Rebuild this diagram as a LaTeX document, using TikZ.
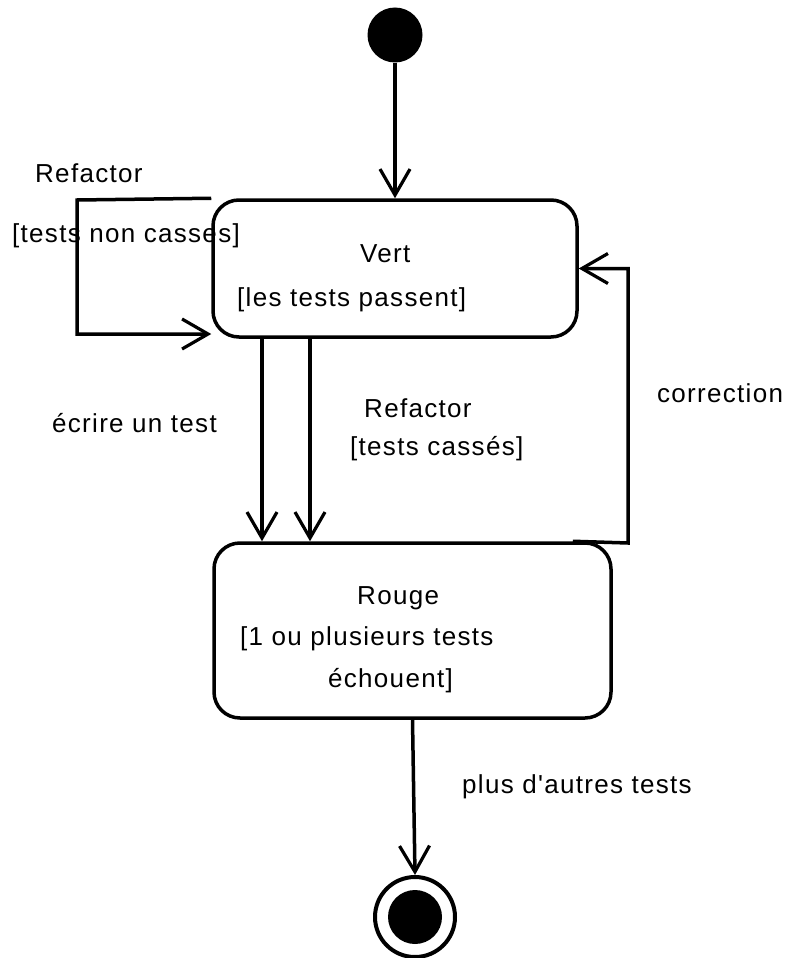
\documentclass[tikz,border=0pt]{standalone}
\usepackage{fontspec}
\newfontfamily\lblfont{Liberation Sans}[LetterSpace=5]
\usetikzlibrary{arrows.meta}
\begin{document}
\begin{tikzpicture}[x=1pt,y=-1pt,
  lbl/.style={anchor=base west,inner sep=0pt,font=\lblfont\fontsize{26}{30}\selectfont},
  statebox/.style={draw,line width=3.5pt,rounded corners=26pt,inner sep=0pt},
  arr/.style={line width=3.5pt,-{Straight Barb[length=26pt,width=30pt,line width=3.2pt]}},
  ln/.style={line width=3.5pt}]
\useasboundingbox (0,0) rectangle (786,958);
% initial state
\node[circle,fill=black,minimum size=55pt,inner sep=0pt] (init) at (395,35) {};
% states
\node[statebox,minimum width=364pt,minimum height=137pt] (vert) at (395,268.5) {};
\node[statebox,minimum width=397pt,minimum height=175pt] (rouge) at (412.5,630.5) {};
% final state
\node[circle,draw,line width=4pt,minimum size=80pt,inner sep=0pt] (final) at (415,917) {};
\node[circle,fill=black,minimum size=54pt,inner sep=0pt] (finalin) at (415,917) {};
% state texts
\node[lbl] (tv1) at (360,262) {Vert};
\node[lbl] (tv2) at (237,306) {[les tests passent]};
\node[lbl] (tr1) at (357,604) {Rouge};
\node[lbl] (tr2) at (240,645) {[1 ou plusieurs tests};
\node[lbl] (tr3) at (328,687) {échouent]};
% helper coordinates
\coordinate (c1) at (262,0);
\coordinate (c2) at (310,0);
\coordinate (lp) at (77,200);
\coordinate (cr) at (628,543);
\coordinate (ly) at (0,334);
% connectors
\draw[arr] (init) -- (vert.north);
\draw[arr] (vert.south -| c1) -- (rouge.north -| c1);
\draw[arr] (vert.south -| c2) -- (rouge.north -| c2);
\draw[arr] (vert.north west) -- (lp) |- (vert.west |- ly);
\draw[arr] ([xshift=-40pt]rouge.north east) -- (cr) |- (vert.east);
\draw[arr] (rouge.south) -- (final.north);
% transition labels
\node[lbl] (l1) at (35,182) {Refactor};
\node[lbl] (l2) at (12,242) {[tests non casses]};
\node[lbl] (l3) at (52,432) {écrire un test};
\node[lbl] (l4) at (364,417) {Refactor};
\node[lbl] (l5) at (350,455) {[tests cassés]};
\node[lbl] (l6) at (657,402) {correction};
\node[lbl] (l7) at (462,793) {plus d'autres tests};
\end{tikzpicture}
\end{document}
